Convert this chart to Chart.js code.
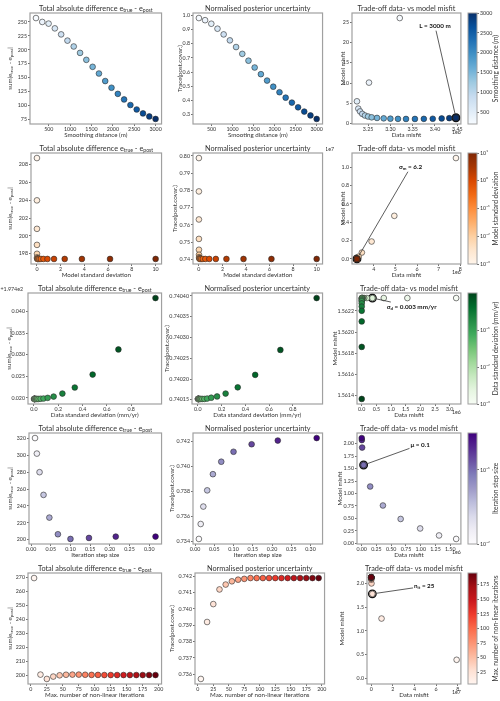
<!DOCTYPE html>
<html>
<head>
<meta charset="utf-8">
<script src="https://cdn.jsdelivr.net/npm/chart.js@4.4.0/dist/chart.umd.min.js"></script>
<style>
  body { margin: 0; background: #fff; width: 500px; height: 701px; position: relative; overflow: hidden; }
  canvas { position: absolute; }
</style>
</head>
<body>
<script>
// ---- row 1 : smoothing distance ----
const smoothDist = [200, 347, 495, 642, 789, 937, 1084, 1232, 1379, 1526, 1674, 1821, 1968, 2116, 2263, 2411, 2558, 2705, 2853, 3000];
const r1Total = [257, 250, 247, 238.5, 227.7, 216.5, 206, 194.5, 182, 169.5, 157.5, 144, 132, 121, 111, 101, 93, 86, 80.5, 76];
const r1Trace = [0.98, 0.965, 0.94, 0.905, 0.865, 0.823, 0.776, 0.728, 0.68, 0.632, 0.585, 0.54, 0.497, 0.458, 0.42, 0.385, 0.352, 0.322, 0.295, 0.27];
const r1DataMis = [3.321, 3.252, 3.225, 3.228, 3.232, 3.237, 3.243, 3.250, 3.258, 3.270, 3.285, 3.300, 3.317, 3.335, 3.355, 3.375, 3.395, 3.415, 3.432, 3.447];
const r1ModelMis = [26.0, 10.1, 5.5, 3.7, 3.0, 2.4, 2.0, 1.75, 1.55, 1.4, 1.3, 1.22, 1.17, 1.15, 1.15, 1.17, 1.2, 1.27, 1.35, 1.45];

// ---- row 2 : model standard deviation ----
const modelStd = [0.001, 0.00162, 0.00264, 0.00428, 0.00695, 0.0113, 0.0183, 0.0298, 0.0483, 0.0785, 0.127, 0.207, 0.336, 0.546, 0.886, 1.44, 2.34, 3.79, 6.16, 10.0];
const r2Total = [208.75, 204.0, 200.8, 199.0, 198.0, 197.6, 197.48, 197.44, 197.43, 197.42, 197.42, 197.42, 197.42, 197.42, 197.42, 197.42, 197.42, 197.42, 197.42, 197.42];
const r2Trace = [0.7988, 0.7794, 0.7631, 0.7518, 0.7455, 0.7426, 0.7412, 0.7406, 0.7403, 0.74022, 0.74018, 0.74016, 0.74015, 0.74015, 0.74015, 0.74015, 0.74015, 0.74015, 0.74015, 0.74015];
const r2DataMis = [7.8, 4.95, 3.9, 3.45, 3.3, 3.25, 3.232, 3.226, 3.224, 3.223, 3.222, 3.222, 3.222, 3.222, 3.222, 3.222, 3.222, 3.222, 3.222, 3.222];
const r2ModelMis = [1.10, 0.47, 0.19, 0.07, 0.025, 0.009, 0.003, 0.001, 0.0004, 0.0001, 0, 0, 0, 0, 0, 0, 0, 0, 0, 0];

// ---- row 3 : data standard deviation ----
const dataStd = [0.001, 0.00144, 0.00207, 0.00298, 0.00428, 0.00616, 0.00886, 0.0127, 0.0183, 0.0264, 0.0379, 0.0546, 0.0785, 0.113, 0.162, 0.234, 0.336, 0.483, 0.695, 1.0];
const r3Total = [0.01975, 0.01975, 0.01975, 0.01975, 0.01975, 0.01975, 0.01975, 0.01975, 0.01975, 0.01975, 0.01975, 0.0198, 0.01985, 0.0200, 0.0203, 0.0210, 0.0224, 0.0254, 0.0312, 0.0431];
const r3Trace = [0.740152, 0.740152, 0.740152, 0.740152, 0.740152, 0.740152, 0.740152, 0.740152, 0.740152, 0.740152, 0.740152, 0.740152, 0.740153, 0.740155, 0.740158, 0.740165, 0.74018, 0.74021, 0.74027, 0.740395];
const r3DataMis = [3.22, 1.556, 0.752, 0.364, 0.176, 0.085, 0.041, 0.0199, 0.0096, 0.0046, 0.0022, 0.00108, 0.00052, 0.00025, 0.00012, 0.00006, 0.00003, 0.000014, 0.000007, 0.000003];
const r3ModelMis = [1.56232, 1.56232, 1.56232, 1.56232, 1.56232, 1.56232, 1.56232, 1.56232, 1.56232, 1.56232, 1.56232, 1.56231, 1.5623, 1.56229, 1.56227, 1.56224, 1.5622, 1.5621, 1.56186, 1.56137];

// ---- row 4 : iteration step size ----
const stepSize = [0.01, 0.0147, 0.0215, 0.0316, 0.0464, 0.0681, 0.1, 0.147, 0.215, 0.316];
const r4Total = [320.8, 302.3, 280.2, 253.2, 226.2, 206.4, 200.8, 202.0, 203.6, 203.6];
const r4Trace = [0.7342, 0.7354, 0.7368, 0.7381, 0.7394, 0.7404, 0.7412, 0.7418, 0.7421, 0.7423];
const r4DataMis = [1.60, 1.31, 0.99, 0.66, 0.36, 0.144, 0.033, 0.008, 0.003, 0.001];
const r4ModelMis = [0.09, 0.16, 0.30, 0.49, 0.76, 1.14, 1.57, 1.92, 2.07, 2.11];

// ---- row 5 : max. number of non-linear iterations ----
const maxIter = [5, 15, 25, 35, 45, 55, 65, 75, 85, 95, 105, 115, 125, 135, 145, 155, 165, 175, 185, 195];
const r5Total = [269.5, 200.6, 197.5, 199.2, 200.1, 200.5, 200.6, 200.6, 200.5, 200.4, 200.4, 200.3, 200.3, 200.3, 200.3, 200.3, 200.3, 200.3, 200.3, 200.3];
const r5Trace = [0.7357, 0.7392, 0.7403, 0.7412, 0.7415, 0.7417, 0.7418, 0.74185, 0.7419, 0.7419, 0.7419, 0.7419, 0.7419, 0.7419, 0.7419, 0.7419, 0.7419, 0.7419, 0.7419, 0.7419];
const r5DataMis = [7.9, 0.95, 0.1, 0.02, 0.005, 0.002, 0.001, 0.0005, 0.0003, 0.0002, 0.0001, 0.0001, 0.0001, 0.0001, 0.0001, 0.0001, 0.0001, 0.0001, 0.0001, 0.0001];
const r5ModelMis = [0.39, 1.26, 1.78, 2.0, 2.08, 2.1, 2.11, 2.12, 2.12, 2.13, 2.13, 2.13, 2.13, 2.13, 2.13, 2.13, 2.13, 2.13, 2.13, 2.13];

// ---- tick labels ----
const distTicks = [500, 1000, 1500, 2000, 2500, 3000];
const r1TotalTicks = [75, 100, 125, 150, 175, 200, 225, 250];
const r1TraceTicks = [0.3, 0.4, 0.5, 0.6, 0.7, 0.8, 0.9, 1.0];
const r1DmTicks = [3.25, 3.30, 3.35, 3.40, 3.45];
const r1MmTicks = [0, 5, 10, 15, 20, 25];
const stdTicks = [0, 2, 4, 6, 8, 10];
const r2TotalTicks = [198, 200, 202, 204, 206, 208];
const r2TraceTicks = [0.74, 0.75, 0.76, 0.77, 0.78, 0.79, 0.80];
const r2DmTicks = [4, 5, 6, 7, 8];
const r2MmTicks = [0.0, 0.2, 0.4, 0.6, 0.8, 1.0];
const dstdTicks = [0.0, 0.2, 0.4, 0.6, 0.8];
const r3TotalTicks = [0.020, 0.025, 0.030, 0.035, 0.040];
const r3TraceTicks = [0.74015, 0.74020, 0.74025, 0.74030, 0.74035, 0.74040];
const r3DmTicks = [0.0, 0.5, 1.0, 1.5, 2.0, 2.5, 3.0];
const r3MmTicks = [1.5614, 1.5616, 1.5618, 1.5620, 1.5622];
const stepTicks = [0.00, 0.05, 0.10, 0.15, 0.20, 0.25, 0.30];
const r4TotalTicks = [200, 220, 240, 260, 280, 300, 320];
const r4TraceTicks = [0.734, 0.736, 0.738, 0.740, 0.742];
const r4DmTicks = [0.00, 0.25, 0.50, 0.75, 1.00, 1.25, 1.50];
const r4MmTicks = [0.00, 0.25, 0.50, 0.75, 1.00, 1.25, 1.50, 1.75, 2.00];
const iterTicks = [0, 25, 50, 75, 100, 125, 150, 175, 200];
const r5TotalTicks = [200, 210, 220, 230, 240, 250, 260, 270];
const r5TraceTicks = [0.736, 0.737, 0.738, 0.739, 0.740, 0.741, 0.742];
const r5DmTicks = [0, 2, 4, 6, 8];
const r5MmTicks = [0.0, 0.5, 1.0, 1.5, 2.0];
const cb1Ticks = [500, 1000, 1500, 2000, 2500, 3000];
const cb2Ticks = [0.001, 0.01, 0.1, 1, 10];
const cb3Ticks = [0.001, 0.01, 0.1];
const cb4Ticks = [0.01, 0.1];
const cb5Ticks = [25, 50, 75, 100, 125, 150, 175];

// ---- text ----
const T_TOTAL = 'Total absolute difference e_{true} - e_{post}';
const T_TRACE = 'Normalised posterior uncertainty';
const T_TRADE = 'Trade-off data- vs model misfit';
const Y_TOTAL = 'sum|e_{true} - e_{post}|';
const Y_TRACE = 'Trace(post.covar.)';

// ---- colour maps (matplotlib sequential) ----
const BLUES = ['#f7fbff', '#deebf7', '#c6dbef', '#9ecae1', '#6baed6', '#4292c6', '#2171b5', '#08519c', '#08306b'];
const ORANGES = ['#fff5eb', '#fee6ce', '#fdd0a2', '#fdae6b', '#fd8d3c', '#f16913', '#d94801', '#a63603', '#7f2704'];
const GREENS = ['#f7fcf5', '#e5f5e0', '#c7e9c0', '#a1d99b', '#74c476', '#41ab5d', '#238b45', '#006d2c', '#00441b'];
const PURPLES = ['#fcfbfd', '#efedf5', '#dadaeb', '#bcbddc', '#9e9ac8', '#807dba', '#6a51a3', '#54278f', '#3f007d'];
const REDS = ['#fff5f0', '#fee0d2', '#fcbba1', '#fc9272', '#fb6a4a', '#ef3b2c', '#cb181d', '#a50f15', '#67000d'];

const FONT = 'Lato, "DejaVu Sans", sans-serif';
const ROW_TOP = [13, 153, 293, 433, 573];
const ROW_H = 111;
const MT = 13, MB = 17;
const CV_LEFT = [0, 164, 326];
const TITLE_SIZE = 7.3, LABEL_SIZE = 6.2, TICK_SIZE = 5.3;
const DOT = 2.85;
// [box left, box right, y-label centre x] per row / column
const LAYOUT = [
  [[30, 162, 10], [193, 323, 180], [352, 463, 343]],
  [[31, 162, 10], [193, 323, 175], [352, 463, 343]],
  [[28, 162, 9], [192, 323, 167], [357, 463, 335]],
  [[29, 162, 10], [193, 323, 172], [357, 463, 340]],
  [[28, 162, 10], [195, 325, 172], [367, 463, 342]]
];

const rows = [
  { c: smoothDist, stops: BLUES, log: false, cmin: 200, cmax: 3000, cbTicks: cb1Ticks, cbLabel: 'Smoothing distance (m)' },
  { c: modelStd, stops: ORANGES, log: true, cmin: 0.001, cmax: 10, cbTicks: cb2Ticks, cbLabel: 'Model standard deviation' },
  { c: dataStd, stops: GREENS, log: true, cmin: 0.001, cmax: 1, cbTicks: cb3Ticks, cbLabel: 'Data standard deviation (mm/yr)' },
  { c: stepSize, stops: PURPLES, log: true, cmin: 0.01, cmax: 0.316, cbTicks: cb4Ticks, cbLabel: 'Iteration step size' },
  { c: maxIter, stops: REDS, log: false, cmin: 5, cmax: 195, cbTicks: cb5Ticks, cbLabel: 'Max. number of non-linear iterations' }
];

const panels = [
  { row: 0, col: 0, x: smoothDist, y: r1Total, xt: distTicks, yt: r1TotalTicks, xd: 0, yd: 0, title: T_TOTAL, xl: 'Smoothing distance (m)', yl: Y_TOTAL },
  { row: 0, col: 1, x: smoothDist, y: r1Trace, xt: distTicks, yt: r1TraceTicks, xd: 0, yd: 1, title: T_TRACE, xl: 'Smooting distance (m)', yl: Y_TRACE },
  { row: 0, col: 2, x: r1DataMis, y: r1ModelMis, xt: r1DmTicks, yt: r1MmTicks, xd: 2, yd: 0, title: T_TRADE, xl: 'Data misfit', yl: 'Model misfit',
    xOff: '1e6', note: { pick: 19, text: 'L = 3000 m', at: [3.40, 24.0] } },

  { row: 1, col: 0, x: modelStd, y: r2Total, xt: stdTicks, yt: r2TotalTicks, xd: 0, yd: 0, title: T_TOTAL, xl: 'Model standard deviation', yl: Y_TOTAL },
  { row: 1, col: 1, x: modelStd, y: r2Trace, xt: stdTicks, yt: r2TraceTicks, xd: 0, yd: 2, title: T_TRACE, xl: 'Model standard deviation', yl: Y_TRACE },
  { row: 1, col: 2, x: r2DataMis, y: r2ModelMis, xt: r2DmTicks, yt: r2MmTicks, xd: 0, yd: 1, title: T_TRADE, xl: 'Data misfit', yl: 'Model misfit',
    xOff: '1e6', yOff: '1e7', yOffDx: -18, note: { pick: 18, text: 'σ_{m} = 6.2', at: [5.7, 1.0] } },

  { row: 2, col: 0, x: dataStd, y: r3Total, xt: dstdTicks, yt: r3TotalTicks, xd: 1, yd: 3, title: T_TOTAL, xl: 'Data standard deviation (mm/yr)', yl: Y_TOTAL,
    yOff: '+1.974e2', yOffDx: -5 },
  { row: 2, col: 1, x: dataStd, y: r3Trace, xt: dstdTicks, yt: r3TraceTicks, xd: 1, yd: 5, title: T_TRACE, xl: 'Data standard deviation (mm/yr)', yl: Y_TRACE },
  { row: 2, col: 2, x: r3DataMis, y: r3ModelMis, xt: r3DmTicks, yt: r3MmTicks, xd: 1, yd: 4, title: T_TRADE, xl: 'Data misfit', yl: 'Model misfit',
    xOff: '1e6', note: { pick: 3, text: 'σ_{d} = 0.003 mm/yr', at: [1.7, 1.56224] } },

  { row: 3, col: 0, x: stepSize, y: r4Total, xt: stepTicks, yt: r4TotalTicks, xd: 2, yd: 0, title: T_TOTAL, xl: 'Iteration step size', yl: Y_TOTAL },
  { row: 3, col: 1, x: stepSize, y: r4Trace, xt: stepTicks, yt: r4TraceTicks, xd: 2, yd: 3, title: T_TRACE, xl: 'Iteration step size', yl: Y_TRACE },
  { row: 3, col: 2, x: r4DataMis, y: r4ModelMis, xt: r4DmTicks, yt: r4MmTicks, xd: 2, yd: 2, title: T_TRADE, xl: 'Data misfit', yl: 'Model misfit',
    xOff: '1e6', note: { pick: 6, text: 'μ = 0.1', at: [0.99, 1.98] } },

  { row: 4, col: 0, x: maxIter, y: r5Total, xt: iterTicks, yt: r5TotalTicks, xd: 0, yd: 0, title: T_TOTAL, xl: 'Max. number of non-linear iterations', yl: Y_TOTAL },
  { row: 4, col: 1, x: maxIter, y: r5Trace, xt: iterTicks, yt: r5TraceTicks, xd: 0, yd: 3, title: T_TRACE, xl: 'Max. number of non-linear iterations', yl: Y_TRACE },
  { row: 4, col: 2, x: r5DataMis, y: r5ModelMis, xt: r5DmTicks, yt: r5MmTicks, xd: 0, yd: 1, title: T_TRADE, xl: 'Data misfit', yl: 'Model misfit',
    xOff: '1e7', ylim: [-0.12, 2.22], note: { pick: 2, text: 'n_{it} = 25', at: [4.9, 1.94] } }
];

function hexRgb(h) { return [1, 3, 5].map(i => parseInt(h.slice(i, i + 2), 16)); }
function cmap(stops, t) {
  t = Math.max(0, Math.min(1, t));
  const p = t * (stops.length - 1);
  const i = Math.min(Math.floor(p), stops.length - 2), f = p - i;
  const a = hexRgb(stops[i]), b = hexRgb(stops[i + 1]);
  return 'rgb(' + a.map((v, k) => Math.round(v + (b[k] - v) * f)).join(',') + ')';
}
function norm(v, lo, hi, log) {
  return log ? (Math.log10(v) - Math.log10(lo)) / (Math.log10(hi) - Math.log10(lo)) : (v - lo) / (hi - lo);
}
// matplotlib style 5% margins
function lim(a) {
  const lo = Math.min(...a), hi = Math.max(...a), r = hi - lo;
  return [lo - 0.05 * r, hi + 0.05 * r];
}

// text with _{sub} parts
function parts(s) {
  const out = []; const re = /_\{([^}]*)\}/g; let last = 0, m;
  while ((m = re.exec(s))) {
    if (m.index > last) out.push({ t: s.slice(last, m.index) });
    out.push({ t: m[1], sub: true });
    last = re.lastIndex;
  }
  if (last < s.length) out.push({ t: s.slice(last) });
  return out;
}
function richWidth(ctx, s, size, weight) {
  let w = 0;
  parts(s).forEach(p => { ctx.font = `${weight} ${p.sub ? size * 0.7 : size}px ${FONT}`; w += ctx.measureText(p.t).width; });
  return w;
}
function drawRich(ctx, s, x, y, size, weight, align) {
  const w = richWidth(ctx, s, size, weight);
  let cx = align === 'center' ? x - w / 2 : align === 'right' ? x - w : x;
  ctx.textAlign = 'left'; ctx.textBaseline = 'middle';
  parts(s).forEach(p => {
    ctx.font = `${weight} ${p.sub ? size * 0.7 : size}px ${FONT}`;
    ctx.fillText(p.t, cx, y + (p.sub ? size * 0.25 : 0));
    cx += ctx.measureText(p.t).width;
  });
  return w;
}

const framePlugin = {
  id: 'frame',
  afterDatasetsDraw(chart, args, o) {
    const { ctx, chartArea: a, scales } = chart;
    const p = o.panel;
    ctx.save();
    // annotation
    if (p.note) {
      const n = p.note;
      const px = scales.x.getPixelForValue(p.x[n.pick]), py = scales.y.getPixelForValue(p.y[n.pick]);
      const tx = scales.x.getPixelForValue(n.at[0]), ty = scales.y.getPixelForValue(n.at[1]);
      const w = richWidth(ctx, n.text, 6.3, 'bold'), h = 7;
      const dx = px - tx, dy = py - ty;
      const s = Math.min(dx ? Math.abs((w / 2 + 1) / dx) : Infinity, dy ? Math.abs((h / 2 + 1) / dy) : Infinity);
      const d = Math.hypot(dx, dy), shrink = 4.5 / d;
      ctx.strokeStyle = '#333'; ctx.lineWidth = 0.8;
      ctx.beginPath();
      ctx.moveTo(tx + dx * s, ty + dy * s);
      ctx.lineTo(px - dx * shrink, py - dy * shrink);
      ctx.stroke();
      ctx.fillStyle = '#111';
      drawRich(ctx, n.text, tx, ty, 6.3, 'bold', 'center');
    }
    // frame
    ctx.strokeStyle = '#a0a0a0'; ctx.lineWidth = 1.2;
    ctx.strokeRect(a.left, a.top, a.right - a.left, a.bottom - a.top);
    ctx.fillStyle = '#333';
    drawRich(ctx, p.title, (a.left + a.right) / 2, a.top - 4.5, TITLE_SIZE, 'normal', 'center');
    drawRich(ctx, p.xl, (a.left + a.right) / 2, a.bottom + 11.5, LABEL_SIZE, 'normal', 'center');
    ctx.save();
    ctx.translate(o.yLabelX, (a.top + a.bottom) / 2);
    ctx.rotate(-Math.PI / 2);
    drawRich(ctx, p.yl, 0, 0, LABEL_SIZE, 'normal', 'center');
    ctx.restore();
    if (p.xOff) drawRich(ctx, p.xOff, a.right, a.bottom + 8.5, TICK_SIZE, 'normal', 'right');
    if (p.yOff) drawRich(ctx, p.yOff, a.left + p.yOffDx, a.top - 3.5, TICK_SIZE, 'normal', 'right');
    ctx.restore();
  }
};

const cbarPlugin = {
  id: 'cbar',
  beforeDatasetsDraw(chart, args, o) {
    const { ctx, chartArea: a } = chart;
    const g = ctx.createLinearGradient(0, a.bottom, 0, a.top);
    o.stops.forEach((c, i) => g.addColorStop(i / (o.stops.length - 1), c));
    ctx.save();
    ctx.fillStyle = g;
    ctx.fillRect(a.left, a.top, a.right - a.left, a.bottom - a.top);
    ctx.strokeStyle = '#a0a0a0'; ctx.lineWidth = 1;
    ctx.strokeRect(a.left, a.top, a.right - a.left, a.bottom - a.top);
    ctx.fillStyle = '#333';
    ctx.translate(29.5, (a.top + a.bottom) / 2);
    ctx.rotate(-Math.PI / 2);
    drawRich(ctx, o.label, 0, 0, 6.6, 'normal', 'center');
    ctx.restore();
  }
};

function addCanvas(left, top, w, h) {
  const cv = document.createElement('canvas');
  cv.width = w; cv.height = h;
  cv.style.left = left + 'px'; cv.style.top = top + 'px';
  cv.style.width = w + 'px'; cv.style.height = h + 'px';
  document.body.appendChild(cv);
  return cv;
}

const SUP = { '-': '⁻', '0': '⁰', '1': '¹', '2': '²', '3': '³' };
function tenPow(v) { return '10' + String(Math.round(Math.log10(v))).split('').map(ch => SUP[ch]).join(''); }

function axisOpts(range, ticks, dec, isX, size) {
  return {
    type: 'linear', min: range[0], max: range[1],
    afterBuildTicks: s => { s.ticks = ticks.map(v => ({ value: v })); },
    afterFit: s => { if (isX) s.height = size; else s.width = size; },
    ticks: { font: { size: TICK_SIZE, family: FONT }, color: '#333', padding: isX ? 0 : 1, maxRotation: 0, minRotation: 0, autoSkip: false,
             callback: v => Number(v).toFixed(dec) },
    grid: { display: true, drawOnChartArea: false, drawTicks: true, tickLength: 2, color: '#333', lineWidth: 0.7 },
    border: { display: false },
    title: { display: false }
  };
}

panels.forEach(p => {
  const r = rows[p.row];
  const [left, right, ylx] = LAYOUT[p.row][p.col];
  const cvLeft = CV_LEFT[p.col];
  const cv = addCanvas(cvLeft, ROW_TOP[p.row] - MT, right + 3 - cvLeft, MT + ROW_H + MB);
  const colors = r.c.map(v => cmap(r.stops, norm(v, r.cmin, r.cmax, r.log)));
  const pts = p.x.map((v, i) => ({ x: v, y: p.y[i] }));
  const datasets = [{ data: pts, pointBackgroundColor: colors, pointBorderColor: '#2a2a2a', pointBorderWidth: 0.6,
                      pointRadius: DOT, pointHoverRadius: DOT }];
  if (p.note) {
    const k = p.note.pick;
    datasets.push({ data: [pts[k]], pointBackgroundColor: colors[k], pointBorderColor: '#111', pointBorderWidth: 1.3,
                    pointRadius: 3.8, pointHoverRadius: 3.8 });
  }
  new Chart(cv, {
    type: 'scatter',
    data: { datasets },
    options: {
      responsive: false, animation: false, devicePixelRatio: 1,
      layout: { padding: { top: MT, right: 3, left: 0, bottom: 0 } },
      plugins: { legend: { display: false }, tooltip: { enabled: false }, frame: { panel: p, yLabelX: ylx - cvLeft } },
      scales: {
        x: axisOpts(lim(p.x), p.xt, p.xd, true, MB),
        y: axisOpts(p.ylim || lim(p.y), p.yt, p.yd, false, left - cvLeft)
      }
    },
    plugins: [framePlugin]
  });
});

rows.forEach((r, i) => {
  const cv = addCanvas(466, ROW_TOP[i] - MT, 34, MT + ROW_H + MB);
  new Chart(cv, {
    type: 'scatter',
    data: { datasets: [{ data: [] }] },
    options: {
      responsive: false, animation: false, devicePixelRatio: 1,
      layout: { padding: { top: MT, bottom: MB, left: 2, right: 0 } },
      plugins: { legend: { display: false }, tooltip: { enabled: false }, cbar: { stops: r.stops, label: r.cbLabel } },
      scales: {
        x: { type: 'linear', display: false },
        y: {
          type: r.log ? 'logarithmic' : 'linear', position: 'right', min: r.cmin, max: r.cmax,
          afterBuildTicks: s => { s.ticks = r.cbTicks.map(v => ({ value: v })); },
          afterFit: s => { s.width = 23; },
          ticks: { font: { size: TICK_SIZE, family: FONT }, color: '#333', padding: 1, autoSkip: false,
                   callback: v => r.log ? tenPow(v) : String(v) },
          grid: { display: true, drawOnChartArea: false, drawTicks: true, tickLength: 2, color: '#333', lineWidth: 0.7 },
          border: { display: false }
        }
      }
    },
    plugins: [cbarPlugin]
  });
});
</script>
</body>
</html>
